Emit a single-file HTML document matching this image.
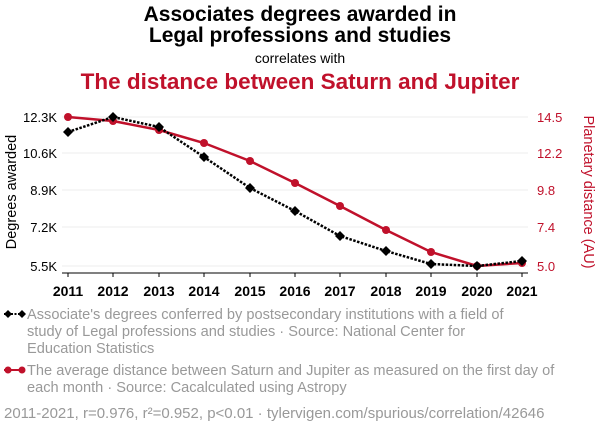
<!DOCTYPE html>
<html><head><meta charset="utf-8"><style>
body{margin:0;width:600px;height:430px;background:#fff;font-family:"Liberation Sans",sans-serif;overflow:hidden}
</style></head><body>
<svg width="600" height="430" xmlns="http://www.w3.org/2000/svg" font-family="Liberation Sans, sans-serif">
<text x="300" y="21" text-anchor="middle" font-size="21" font-weight="bold" fill="#000">Associates degrees awarded in</text>
<text x="300" y="42" text-anchor="middle" font-size="21" font-weight="bold" fill="#000">Legal professions and studies</text>
<text x="300" y="63" text-anchor="middle" font-size="14" fill="#000">correlates with</text>
<text x="300" y="89" text-anchor="middle" font-size="22.5" font-weight="bold" fill="#c0112b">The distance between Saturn and Jupiter</text>
<g stroke="#eee" stroke-width="1">
<line x1="62" x2="528" y1="117" y2="117"/><line x1="62" x2="528" y1="153" y2="153"/><line x1="62" x2="528" y1="190" y2="190"/><line x1="62" x2="528" y1="227" y2="227"/><line x1="62" x2="528" y1="266" y2="266"/>
</g>
<line x1="62" x2="528" y1="273" y2="273" stroke="#000" stroke-width="1"/>
<g stroke="#000"><line x1="68" x2="68" y1="273" y2="277"/><line x1="113" x2="113" y1="273" y2="277"/><line x1="159" x2="159" y1="273" y2="277"/><line x1="204" x2="204" y1="273" y2="277"/><line x1="250" x2="250" y1="273" y2="277"/><line x1="295" x2="295" y1="273" y2="277"/><line x1="340" x2="340" y1="273" y2="277"/><line x1="386" x2="386" y1="273" y2="277"/><line x1="431" x2="431" y1="273" y2="277"/><line x1="477" x2="477" y1="273" y2="277"/><line x1="522" x2="522" y1="273" y2="277"/></g>
<g font-size="14" font-weight="bold" text-anchor="middle" fill="#000">
<text x="68" y="296">2011</text><text x="113" y="296">2012</text><text x="159" y="296">2013</text><text x="204" y="296">2014</text><text x="250" y="296">2015</text><text x="295" y="296">2016</text><text x="340" y="296">2017</text><text x="386" y="296">2018</text><text x="431" y="296">2019</text><text x="477" y="296">2020</text><text x="522" y="296">2021</text>
</g>
<g font-size="13" text-anchor="end" fill="#000">
<text x="57" y="122">12.3K</text><text x="57" y="158">10.6K</text><text x="57" y="195">8.9K</text><text x="57" y="232">7.2K</text><text x="57" y="271">5.5K</text>
</g>
<g font-size="13" fill="#c0112b">
<text x="537" y="122">14.5</text><text x="537" y="158">12.2</text><text x="537" y="195">9.8</text><text x="537" y="232">7.4</text><text x="537" y="271">5.0</text>
</g>
<text transform="translate(16,192) rotate(-90)" text-anchor="middle" font-size="14.5" fill="#000">Degrees awarded</text>
<text transform="translate(584,192) rotate(90)" text-anchor="middle" font-size="14.5" fill="#c0112b">Planetary distance (AU)</text>
<polyline fill="none" stroke="#c0112b" stroke-width="2.5" points="68,117 113,121 159,130 204,143 250,161 295,183 340,206 386,230 431,252 477,266 522,263"/>
<g fill="#c0112b"><circle cx="68" cy="117" r="4"/><circle cx="113" cy="121" r="4"/><circle cx="159" cy="130" r="4"/><circle cx="204" cy="143" r="4"/><circle cx="250" cy="161" r="4"/><circle cx="295" cy="183" r="4"/><circle cx="340" cy="206" r="4"/><circle cx="386" cy="230" r="4"/><circle cx="431" cy="252" r="4"/><circle cx="477" cy="266" r="4"/><circle cx="522" cy="263" r="4"/></g>
<polyline fill="none" stroke="#000" stroke-width="2.5" stroke-dasharray="2.5,1.5" points="68,132 113,117 159,127 204,157 250,188 295,211 340,236 386,251 431,264 477,266 522,261"/>
<g fill="#000">
<path d="M68 127l5 5-5 5-5-5z"/><path d="M113 112l5 5-5 5-5-5z"/><path d="M159 122l5 5-5 5-5-5z"/><path d="M204 152l5 5-5 5-5-5z"/><path d="M250 183l5 5-5 5-5-5z"/><path d="M295 206l5 5-5 5-5-5z"/><path d="M340 231l5 5-5 5-5-5z"/><path d="M386 246l5 5-5 5-5-5z"/><path d="M431 259l5 5-5 5-5-5z"/><path d="M477 261l5 5-5 5-5-5z"/><path d="M522 256l5 5-5 5-5-5z"/>
</g>
<line x1="4" x2="22" y1="314" y2="314" stroke="#000" stroke-width="2" stroke-dasharray="2,1.5"/>
<path d="M8 310l4 4-4 4-4-4z" fill="#000"/><path d="M22 310l4 4-4 4-4-4z" fill="#000"/>
<g font-size="14.6" fill="#999">
<text x="27" y="319">Associate's degrees conferred by postsecondary institutions with a field of</text>
<text x="27" y="336">study of Legal professions and studies · Source: National Center for</text>
<text x="27" y="353">Education Statistics</text>
<text x="27" y="375">The average distance between Saturn and Jupiter as measured on the first day of</text>
<text x="27" y="392">each month · Source: Cacalculated using Astropy</text>
</g>
<text x="4" y="418" font-size="15" fill="#999">2011-2021, r=0.976, r²=0.952, p&lt;0.01 · tylervigen.com/spurious/correlation/42646</text>
<line x1="4" x2="22" y1="370" y2="370" stroke="#c0112b" stroke-width="2"/>
<circle cx="8" cy="370" r="3.5" fill="#c0112b"/><circle cx="22" cy="370" r="3.5" fill="#c0112b"/>
</svg>
</body></html>
